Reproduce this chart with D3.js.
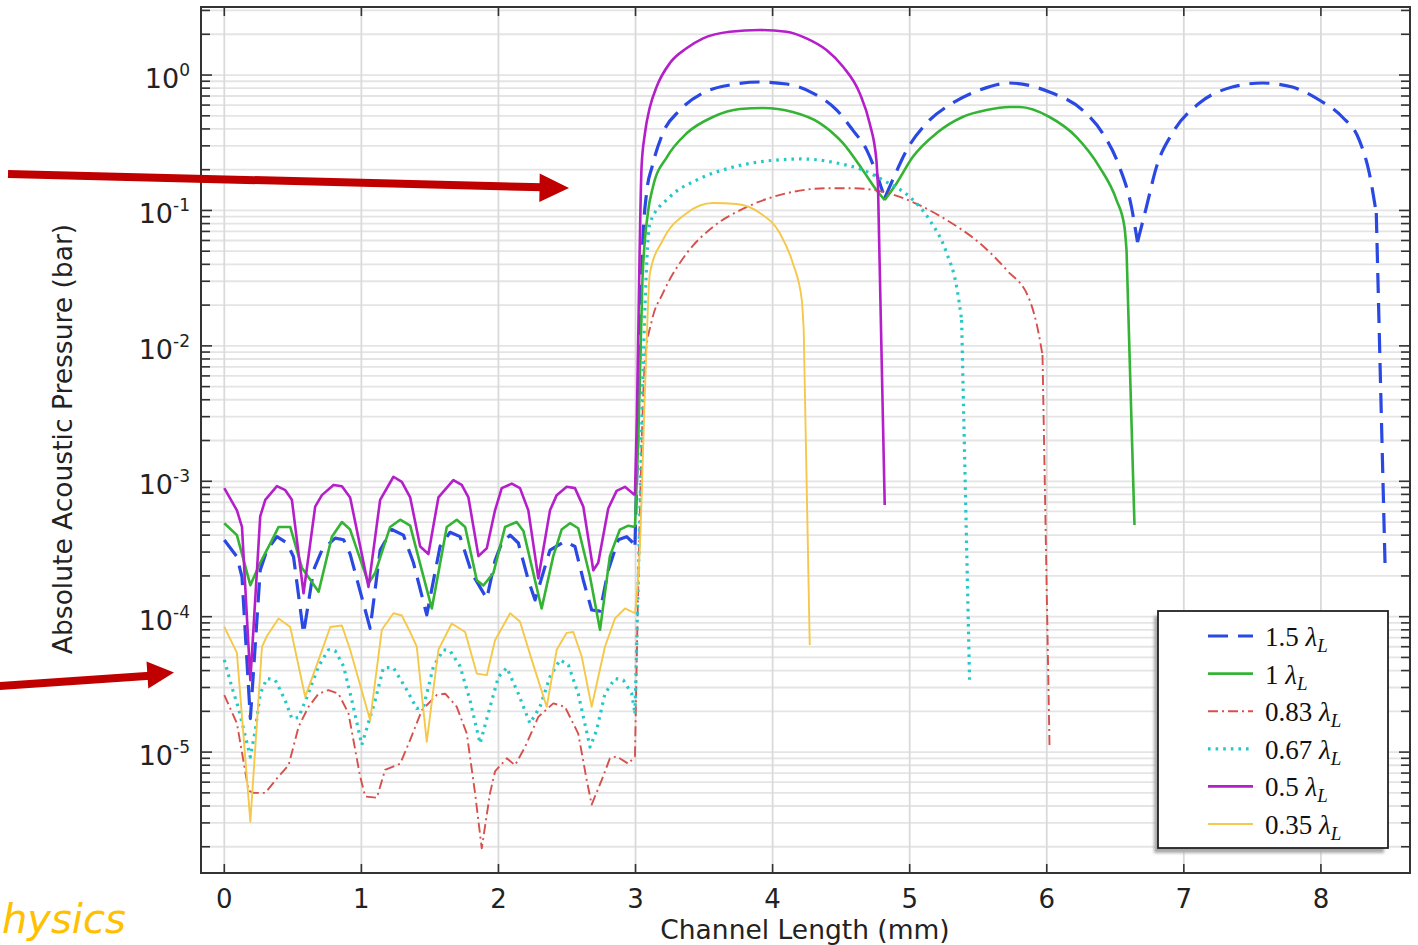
<!DOCTYPE html>
<html>
<head>
<meta charset="utf-8">
<script src="https://cdn.jsdelivr.net/npm/d3@7"></script>
<style>
  html, body { margin: 0; padding: 0; background: #fff; overflow: hidden; }
  svg { display: block; }
</style>
</head>
<body>
<svg id="chart" width="1418" height="945"></svg>
<script>
// ---- Data: absolute acoustic pressure (bar) along the channel (mm) ----
const seriesLabels = ["1.5", "1", "0.83", "0.67", "0.5", "0.35"];

const x15 = [0,0.092,0.129,0.19,0.262,0.311,0.384,0.457,0.505,0.578,0.651,0.712,0.809,0.87,0.918,1.064,1.137,1.222,1.307,1.38,1.477,1.574,1.647,1.72,1.805,1.915,1.975,2.024,2.085,2.145,2.218,2.267,2.376,2.485,2.558,2.619,2.68,2.741,2.801,2.874,2.935,2.996,
  3.02,3.05,3.083,3.12,3.2,3.324,3.491,3.688,3.907,4.103,4.293,4.468,4.585,4.687,4.767,4.818,4.876,4.978,5.124,5.313,5.51,5.729,6.02,6.261,6.407,6.531,6.618,6.662,6.727,6.8,6.917,7.114,7.354,7.573,7.792,7.988,8.156,8.28,8.353,8.404,8.469];
const p15 = [3.68e-4,2.77e-4,1.97e-4,1.77e-5,2.2e-4,3.1e-4,3.9e-4,3.5e-4,2.77e-4,7.5e-5,2.2e-4,3.1e-4,3.8e-4,3.7e-4,2.9e-4,8.2e-5,3.1e-4,4.4e-4,4.0e-4,2.5e-4,1.03e-4,3.3e-4,4.2e-4,3.9e-4,2.1e-4,1.36e-4,2.6e-4,3.5e-4,4.0e-4,3.5e-4,1.86e-4,1.33e-4,3.1e-4,3.6e-4,3.3e-4,1.86e-4,1.12e-4,1.1e-4,2.2e-4,3.7e-4,3.9e-4,3.4e-4,
  0.003,0.05,0.141,0.209,0.373,0.551,0.736,0.844,0.888,0.858,0.736,0.551,0.392,0.279,0.176,0.1235,0.168,0.279,0.442,0.621,0.775,0.873,0.749,0.551,0.373,0.209,0.106,0.0584,0.106,0.209,0.373,0.621,0.815,0.873,0.815,0.654,0.49,0.331,0.189,0.0957,2.21e-4];

const x10 = [0,0.092,0.19,0.262,0.348,0.396,0.481,0.566,0.688,0.785,0.858,0.918,1.052,1.1,1.21,1.283,1.356,1.441,1.514,1.623,1.696,1.757,1.842,1.89,1.963,2.048,2.133,2.182,2.315,2.4,2.461,2.522,2.582,2.668,2.741,2.813,2.886,2.947,2.996,
  3.02,3.05,3.09,3.127,3.229,3.375,3.564,3.761,3.929,4.147,4.344,4.512,4.657,4.759,4.818,4.905,5.022,5.197,5.386,5.561,5.729,5.802,6.02,6.217,6.385,6.509,6.567,6.582,6.64];
const p10 = [4.9e-4,4.0e-4,1.71e-4,2.5e-4,3.68e-4,4.6e-4,4.6e-4,2.3e-4,1.53e-4,3.9e-4,5.0e-4,4.4e-4,1.76e-4,2.1e-4,4.6e-4,5.2e-4,4.7e-4,2.2e-4,1.15e-4,4.6e-4,5.2e-4,4.6e-4,1.86e-4,1.7e-4,2.1e-4,4.6e-4,5.0e-4,4.3e-4,1.15e-4,2.8e-4,4.4e-4,4.9e-4,4.5e-4,1.97e-4,8.0e-5,2.8e-4,4.4e-4,4.7e-4,4.6e-4,
  0.002,0.03,0.0957,0.149,0.248,0.373,0.49,0.561,0.571,0.533,0.442,0.315,0.199,0.141,0.1193,0.159,0.248,0.373,0.49,0.551,0.58,0.58,0.49,0.348,0.209,0.1193,0.0754,0.051,4.75e-4];

const x083 = [0,0.092,0.177,0.214,0.299,0.384,0.469,0.542,0.614,0.688,0.76,0.833,0.906,0.991,1.028,1.113,1.173,1.283,1.356,1.441,1.55,1.611,1.696,1.769,1.829,1.878,1.939,1.975,2.061,2.121,2.194,2.291,2.4,2.485,2.582,2.644,2.68,2.753,2.813,2.862,2.947,2.996,
  3.03,3.07,3.12,3.2,3.375,3.564,3.812,4.103,4.395,4.585,4.781,5.022,5.27,5.51,5.707,5.875,5.94,5.969,6.02];
const p083 = [2.64e-5,1.63e-5,5.2e-6,5.0e-6,5.0e-6,6.4e-6,8.0e-6,1.54e-5,2.16e-5,2.7e-5,2.87e-5,2.7e-5,1.93e-5,6.6e-6,4.7e-6,4.6e-6,7.4e-6,8.2e-6,1.23e-5,2.04e-5,2.64e-5,2.7e-5,2.16e-5,1.37e-5,5.0e-6,1.95e-6,5.0e-6,7.2e-6,9.0e-6,8.0e-6,1.09e-5,1.82e-5,2.29e-5,2.16e-5,1.37e-5,6.2e-6,4.1e-6,6.2e-6,9.0e-6,9.3e-6,8.2e-6,9.3e-6,
  5e-4,0.008,0.0155,0.0245,0.0485,0.0754,0.106,0.134,0.146,0.146,0.139,0.1153,0.0849,0.0574,0.0363,0.0218,0.0125,0.00855,1.13e-5];

const x067 = [0,0.056,0.104,0.19,0.226,0.262,0.311,0.372,0.445,0.493,0.542,0.603,0.688,0.76,0.809,0.87,0.931,1.003,1.1,1.161,1.234,1.332,1.404,1.453,1.526,1.599,1.647,1.72,1.793,1.866,1.939,2.0,2.061,2.145,2.23,2.303,2.376,2.449,2.51,2.582,2.668,2.716,2.777,2.85,2.911,2.972,2.996,
  3.03,3.06,3.105,3.251,3.448,3.688,3.958,4.22,4.468,4.657,4.832,5.0,5.146,5.27,5.343,5.379,5.437];
const p067 = [4.8e-5,3.0e-5,2.1e-5,9.2e-6,1.45e-5,2.7e-5,3.5e-5,3.4e-5,2.4e-5,1.77e-5,1.8e-5,2.56e-5,4.3e-5,5.7e-5,5.6e-5,4.3e-5,2.4e-5,1.13e-5,2.4e-5,4.2e-5,4.2e-5,2.87e-5,2.1e-5,2.16e-5,4.3e-5,5.7e-5,5.6e-5,4.3e-5,2.4e-5,1.16e-5,2.16e-5,3.6e-5,4.2e-5,2.7e-5,1.63e-5,2.16e-5,3.6e-5,4.8e-5,4.4e-5,2.7e-5,1.09e-5,1.45e-5,2.7e-5,3.5e-5,3.4e-5,2.7e-5,1.93e-5,
  5e-4,0.01,0.0807,0.126,0.168,0.206,0.232,0.24,0.224,0.199,0.162,0.126,0.0849,0.0485,0.0272,0.0155,3.4e-5];

const x05 = [0,0.092,0.129,0.19,0.262,0.299,0.384,0.445,0.493,0.578,0.663,0.712,0.797,0.858,0.918,1.052,1.137,1.234,1.295,1.356,1.429,1.489,1.562,1.671,1.732,1.781,1.854,1.915,1.975,2.024,2.097,2.157,2.218,2.291,2.376,2.425,2.498,2.558,2.619,2.692,2.728,2.801,2.862,2.923,2.996,
  3.01,3.03,3.044,3.069,3.105,3.154,3.251,3.372,3.493,3.688,3.907,4.101,4.247,4.393,4.514,4.636,4.708,4.757,4.769,4.818];
const p05 = [8.9e-4,6.1e-4,4.6e-4,3.4e-5,5.5e-4,7.3e-4,9.2e-4,8.6e-4,7.3e-4,1.49e-4,6.5e-4,7.9e-4,9.4e-4,9.2e-4,7.6e-4,1.66e-4,7.3e-4,1.08e-3,9.9e-4,7.6e-4,3.3e-4,2.9e-4,7.6e-4,1.02e-3,9.4e-4,7.6e-4,2.8e-4,3.2e-4,6.1e-4,8.9e-4,9.6e-4,8.9e-4,6.1e-4,1.92e-4,6.1e-4,7.9e-4,9.1e-4,8.9e-4,6.5e-4,2.2e-4,2.5e-4,6.3e-4,8.5e-4,9.1e-4,7.9e-4,
  0.003,0.05,0.21,0.373,0.58,0.82,1.226,1.575,1.866,2.088,2.149,2.088,1.866,1.53,1.152,0.732,0.44,0.236,0.15,6.67e-4];

const x035 = [0,0.092,0.19,0.275,0.311,0.396,0.481,0.59,0.688,0.773,0.858,0.918,1.064,1.149,1.234,1.295,1.356,1.404,1.477,1.562,1.659,1.757,1.842,1.915,1.975,2.085,2.157,2.243,2.352,2.425,2.498,2.546,2.607,2.68,2.777,2.85,2.923,2.996,
  3.03,3.07,3.105,3.2,3.375,3.564,3.739,3.907,4.052,4.147,4.213,4.227,4.271];
const p035 = [8.4e-5,5.4e-5,3.06e-6,6.0e-5,7.2e-5,9.7e-5,8.4e-5,2.56e-5,4.8e-5,8.4e-5,8.6e-5,5.7e-5,1.72e-5,8.0e-5,1.06e-4,1.02e-4,7.7e-5,6.0e-5,1.19e-5,5.7e-5,8.9e-5,7.7e-5,3.8e-5,3.7e-5,6.7e-5,1.06e-4,9.2e-5,4.8e-5,2.16e-5,5.7e-5,7.6e-5,7.7e-5,5.1e-5,2.16e-5,6.0e-5,9.7e-5,1.15e-4,1.06e-4,
  3e-4,0.005,0.0345,0.0605,0.0957,0.1134,0.1115,0.0957,0.0681,0.0409,0.0218,0.0131,6.17e-5];

const xTicks = [0, 1, 2, 3, 4, 5, 6, 7, 8];
const yExponents = [0, -1, -2, -3, -4, -5];

// ---- Layout and styles ----
const plot = { left: 201, top: 7, right: 1410, bottom: 873 };
const styles = [
  { color: "#2a48e2", width: 3.2, dash: "20,10" },
  { color: "#34b334", width: 2.6, dash: null },
  { color: "#d6504c", width: 1.9, dash: "10,4,2,4" },
  { color: "#25c8c8", width: 3.2, dash: "2.6,5" },
  { color: "#b51fc9", width: 2.6, dash: null },
  { color: "#f5c84a", width: 1.9, dash: null }
];
const seriesX = [x15, x10, x083, x067, x05, x035];
const seriesP = [p15, p10, p083, p067, p05, p035];
const rippleEnd = 3.0;   // the periodic section ends at the 3 mm step

const svg = d3.select("#chart");
const x = d3.scaleLinear().domain([-0.17, 8.65]).range([plot.left, plot.right]);
const y = d3.scaleLog().domain([1.28e-6, 3.18]).range([plot.bottom, plot.top]);

// log-scale tick values (1..9 per decade) inside the domain
const logTicks = [];
for (let e = -6; e <= 0; e++) {
  for (let m = 1; m <= 9; m++) {
    const v = m * Math.pow(10, e);
    if (v >= y.domain()[0] && v <= y.domain()[1]) logTicks.push({ v, major: m === 1 });
  }
}

// ---- Grid ----
const grid = svg.append("g");
grid.selectAll("line.h").data(logTicks).join("line")
  .attr("x1", plot.left).attr("x2", plot.right)
  .attr("y1", d => y(d.v)).attr("y2", d => y(d.v))
  .attr("stroke", "#e4e4e4").attr("stroke-width", 1.8);
grid.selectAll("line.v").data(xTicks).join("line")
  .attr("x1", d => x(d)).attr("x2", d => x(d))
  .attr("y1", plot.top).attr("y2", plot.bottom)
  .attr("stroke", "#dadada").attr("stroke-width", 1.8);

// ---- Curves ----
svg.append("clipPath").attr("id", "plotClip").append("rect")
  .attr("x", plot.left).attr("y", plot.top)
  .attr("width", plot.right - plot.left).attr("height", plot.bottom - plot.top);

const lineLinear = d3.line().x(d => x(d[0])).y(d => y(d[1])).curve(d3.curveLinear);
const lineSmooth = d3.line().x(d => x(d[0])).y(d => y(d[1])).curve(d3.curveMonotoneX);
const curves = svg.append("g").attr("clip-path", "url(#plotClip)");

seriesX.forEach((xs, i) => {
  const pts = xs.map((xv, k) => [xv, seriesP[i][k]]);
  const s = styles[i];
  const n = pts.length;
  const a = pts.findIndex(d => d[0] > rippleEnd);   // first point after the step

  // pieces: ripple (straight segments), arches (smooth, split at cusps), final drop (straight)
  const pieces = [];
  pieces.push({ pts: pts.slice(0, a), smooth: false });
  let start = a - 1;
  for (let k = a + 2; k < n - 2; k++) {
    if (pts[k][1] < pts[k - 1][1] && pts[k][1] < pts[k + 1][1]) {
      pieces.push({ pts: pts.slice(start, k + 1), smooth: true });
      start = k;
    }
  }
  pieces.push({ pts: pts.slice(start, n - 1), smooth: true });
  pieces.push({ pts: pts.slice(n - 2), smooth: false });

  const d = pieces.map(pc => (pc.smooth ? lineSmooth : lineLinear)(pc.pts)).join("");
  curves.append("path")
    .attr("d", d)
    .attr("fill", "none")
    .attr("stroke", s.color)
    .attr("stroke-width", s.width)
    .attr("stroke-linejoin", "round")
    .attr("stroke-dasharray", s.dash);
});

// ---- Axes frame and ticks ----
const axisColor = "#333";
const axes = svg.append("g");
axes.append("rect")
  .attr("x", plot.left).attr("y", plot.top)
  .attr("width", plot.right - plot.left).attr("height", plot.bottom - plot.top)
  .attr("fill", "none").attr("stroke", axisColor).attr("stroke-width", 2);

// x ticks (bottom and top, pointing inward)
axes.selectAll("line.xb").data(xTicks).join("line")
  .attr("x1", d => x(d)).attr("x2", d => x(d))
  .attr("y1", plot.bottom).attr("y2", plot.bottom - 9)
  .attr("stroke", axisColor).attr("stroke-width", 1.6);
axes.selectAll("line.xt").data(xTicks).join("line")
  .attr("x1", d => x(d)).attr("x2", d => x(d))
  .attr("y1", plot.top).attr("y2", plot.top + 9)
  .attr("stroke", axisColor).attr("stroke-width", 1.6);

// y ticks (left and right, pointing inward)
axes.selectAll("line.yl").data(logTicks).join("line")
  .attr("x1", plot.left).attr("x2", d => plot.left + (d.major ? 11 : 9))
  .attr("y1", d => y(d.v)).attr("y2", d => y(d.v))
  .attr("stroke", axisColor).attr("stroke-width", 1.6);
axes.selectAll("line.yr").data(logTicks).join("line")
  .attr("x1", plot.right).attr("x2", d => plot.right - (d.major ? 11 : 9))
  .attr("y1", d => y(d.v)).attr("y2", d => y(d.v))
  .attr("stroke", axisColor).attr("stroke-width", 1.6);

// tick labels
const sans = "'DejaVu Sans', Verdana, sans-serif";
axes.selectAll("text.xl").data(xTicks).join("text")
  .attr("x", d => x(d)).attr("y", plot.bottom + 35)
  .attr("text-anchor", "middle")
  .attr("font-family", sans).attr("font-size", 26).attr("fill", "#222")
  .text(d => d);

yExponents.forEach(e => {
  const t = axes.append("text")
    .attr("x", 190).attr("y", y(Math.pow(10, e)) + 13)
    .attr("text-anchor", "end")
    .attr("font-family", sans).attr("fill", "#222");
  t.append("tspan").attr("font-size", 27).text("10");
  t.append("tspan").attr("font-size", 17).attr("dy", -12).text(String(e));
});

// axis titles
svg.append("text")
  .attr("x", 805).attr("y", 939)
  .attr("text-anchor", "middle")
  .attr("font-family", sans).attr("font-size", 26.5).attr("fill", "#222")
  .text("Channel Length (mm)");
svg.append("text")
  .attr("transform", "translate(72,439) rotate(-90)")
  .attr("text-anchor", "middle")
  .attr("font-family", sans).attr("font-size", 26.5).attr("fill", "#222")
  .text("Absolute Acoustic Pressure (bar)");

// ---- Legend ----
const lg = { x: 1158, y: 611, w: 230, h: 237 };
const legend = svg.append("g");
const blur = svg.append("filter").attr("id", "shadowBlur");
blur.append("feGaussianBlur").attr("stdDeviation", 1.5);
legend.append("rect")
  .attr("x", lg.x - 4).attr("y", lg.y + 5).attr("width", lg.w).attr("height", lg.h)
  .attr("fill", "#a9a9a9").attr("filter", "url(#shadowBlur)");
legend.append("rect")
  .attr("x", lg.x).attr("y", lg.y).attr("width", lg.w).attr("height", lg.h)
  .attr("fill", "#fff").attr("stroke", "#222").attr("stroke-width", 1.8);

seriesLabels.forEach((lab, i) => {
  const cy = lg.y + 25 + i * 37.6;
  const s = styles[i];
  legend.append("line")
    .attr("x1", 1208).attr("x2", 1253).attr("y1", cy).attr("y2", cy)
    .attr("stroke", s.color).attr("stroke-width", s.width)
    .attr("stroke-dasharray", s.dash);
  const t = legend.append("text")
    .attr("x", 1265).attr("y", cy + 10)
    .attr("font-family", "'Liberation Serif', 'DejaVu Serif', serif")
    .attr("font-size", 27).attr("fill", "#111");
  t.append("tspan").text(lab + " ");
  t.append("tspan").attr("font-style", "italic").text("λ");
  t.append("tspan").attr("font-style", "italic").attr("font-size", 19).attr("dy", 6).text("L");
});

// ---- Annotations: red arrows and partial logo text ----
const ann = svg.append("g").attr("fill", "#c00000").attr("stroke", "#c00000");
ann.append("line").attr("x1", 8).attr("y1", 174).attr("x2", 543).attr("y2", 187.3)
  .attr("stroke-width", 8);
ann.append("path").attr("d", "M569,188 L539.7,173.5 L539.3,202 Z").attr("stroke", "none");
ann.append("line").attr("x1", -6).attr("y1", 686.5).attr("x2", 150).attr("y2", 675.8)
  .attr("stroke-width", 8);
ann.append("path").attr("d", "M174,672.5 L146.5,661.5 L148.3,688.5 Z").attr("stroke", "none");

svg.append("text")
  .attr("x", 2).attr("y", 933)
  .attr("font-family", sans).attr("font-style", "italic")
  .attr("font-size", 40).attr("fill", "#ffc000")
  .text("hysics");
</script>
</body>
</html>
